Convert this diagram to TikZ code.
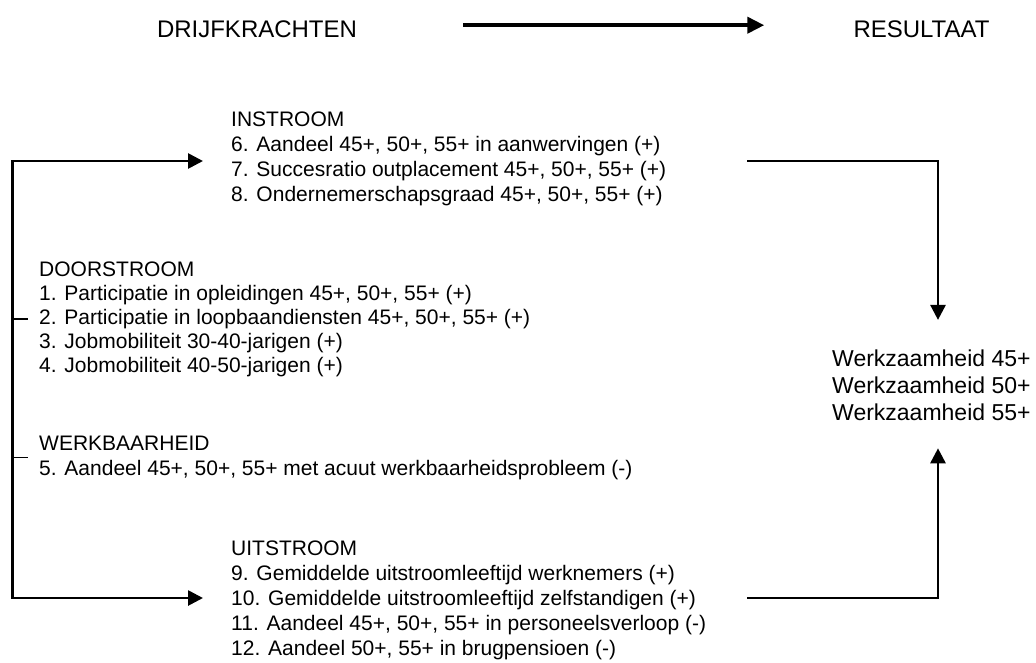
\documentclass[tikz,border=0pt]{standalone}
\usepackage{fontspec}
\setmainfont{Liberation Sans}
\usetikzlibrary{arrows.meta}
\begin{document}
\begin{tikzpicture}[x=1pt,y=-1pt,
  blk/.style={inner sep=0pt,anchor=west},
  body/.style={font=\fontsize{21}{25}\selectfont},
  title/.style={inner sep=0pt,font=\fontsize{24}{28}\selectfont},
  conn/.style={line width=2.7pt,line join=miter},
  tip/.style={-{Triangle[length=15pt,width=15pt]}},
  tips/.style={{Triangle[length=15pt,width=15pt]}-{Triangle[length=15pt,width=15pt]}},
  tickline/.style={line width=1.7pt},
  bigarrow/.style={line width=4pt,-{Triangle[length=17pt,width=16pt]}}]
\useasboundingbox (0,0) rectangle (1036,662);

% titles
\node[title] (drijf) at (257,29.7) {DRIJFKRACHTEN};
\node[title] (result) at (921.5,29.7) {RESULTAAT};
\draw[bigarrow,shorten <=106pt,shorten >=89pt] ([yshift=4.5pt]drijf.east) -- ([yshift=4.5pt]result.west);

% text blocks
\node[blk,body] (instroom) at (231,158.5) {\begin{tabular}{@{}l@{}}INSTROOM\\
6. Aandeel 45+, 50+, 55+ in aanwervingen (+)\\
7. Succesratio outplacement 45+, 50+, 55+ (+)\\
8. Ondernemerschapsgraad 45+, 50+, 55+ (+)\end{tabular}};

\node[blk,font=\fontsize{21}{24}\selectfont] (doorstroom) at (39,319.2) {\begin{tabular}{@{}l@{}}DOORSTROOM\\
1. Participatie in opleidingen 45+, 50+, 55+ (+)\\
2. Participatie in loopbaandiensten 45+, 50+, 55+ (+)\\
3. Jobmobiliteit 30-40-jarigen (+)\\
4. Jobmobiliteit 40-50-jarigen (+)\end{tabular}};

\node[blk,body] (werkbaar) at (39,457.5) {\begin{tabular}{@{}l@{}}WERKBAARHEID\\
5. Aandeel 45+, 50+, 55+ met acuut werkbaarheidsprobleem (-)\end{tabular}};

\node[blk,body] (uitstroom) at (231,600) {\begin{tabular}{@{}l@{}}UITSTROOM\\
9. Gemiddelde uitstroomleeftijd werknemers (+)\\
10. Gemiddelde uitstroomleeftijd zelfstandigen (+)\\
11. Aandeel 45+, 50+, 55+ in personeelsverloop (-)\\
12. Aandeel 50+, 55+ in brugpensioen (-)\end{tabular}};

\node[blk,font=\fontsize{23}{27}\selectfont] (werk) at (832,387.6) {\begin{tabular}{@{}l@{}}Werkzaamheid 45+\\
Werkzaamheid 50+\\
Werkzaamheid 55+\end{tabular}};

% left bracket
\coordinate (LT) at (12.5,161);
\coordinate (LB) at (12.5,598);
\draw[conn,tips,shorten <=28pt,shorten >=28pt] (LT -| instroom.west) -- (LT) -- (LB) -- (LB -| uitstroom.west);
\draw[tickline,shorten >=11pt] (LT |- doorstroom.west) -- (doorstroom.west);
\draw[tickline,shorten >=11pt] (LT |- werkbaar.west) -- (werkbaar.west);

% right connectors
\coordinate (RT) at (747,161);
\coordinate (RB) at (747,598);
\coordinate (RX) at (938,161);
\draw[conn,tip,shorten >=27pt] (RT) -- (RX) -- (RX |- werk.north);
\draw[conn,tip,shorten >=20pt] (RB) -- (RB -| RX) -- (RX |- werk.south);
\end{tikzpicture}
\end{document}
